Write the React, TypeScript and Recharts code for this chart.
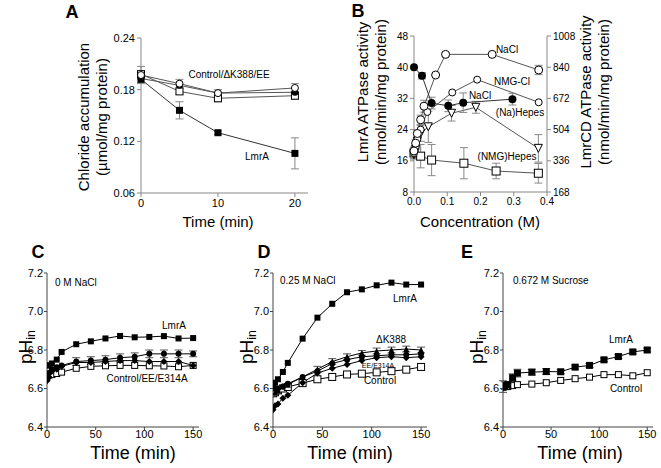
import React from "react";
import { LineChart, Line, XAxis, YAxis, ErrorBar } from "recharts";

// ---- Panel A: chloride accumulation ----
const A_TIME = [0, 5, 10, 20];
const A_LMRA = [0.192, 0.156, 0.13, 0.106];
const A_LMRA_ERR = [0.004, 0.01, 0.002, 0.018];
const A_CONTROL = [0.197, 0.187, 0.176, 0.182];
const A_CONTROL_ERR = [0.01, 0.005, 0.004, 0.005];
const A_DK388 = [0.193, 0.185, 0.176, 0.177];
const A_EE = [0.198, 0.178, 0.17, 0.173];
const A_EE_ERR = [0.004, 0.003, 0.004, 0.004];

// ---- Panel B: ATPase activity vs concentration ----
// LmrA (left axis, nmol/min/mg)
const B_LMRA_NACL_C = [0, 0.024, 0.053, 0.103, 0.148, 0.296];
const B_LMRA_NACL = [40, 37.8, 30.8, 30.1, 30.9, 31.8];
const B_LMRA_NACL_ERR = [0, 0.8, 1.5, 1.5, 2.5, 1.5];
// LmrCD (right axis, nmol/min/mg)
const B_CD_NACL_C = [0, 0.005, 0.01, 0.02, 0.03, 0.065, 0.095, 0.235, 0.375];
const B_CD_NACL = [389, 431, 483, 557, 630, 798, 909, 909, 825];
const B_CD_NACL_ERR = [20, 20, 20, 25, 32, 0, 10, 0, 25];
const B_CD_NMGCL_C = [0, 0.005, 0.01, 0.02, 0.04, 0.115, 0.19, 0.375];
const B_CD_NMGCL = [378, 410, 452, 504, 599, 704, 773, 651];
const B_CD_NAHEPES_C = [0, 0.005, 0.01, 0.02, 0.043, 0.113, 0.186, 0.374];
const B_CD_NAHEPES = [368, 399, 441, 483, 519, 592, 624, 403];
const B_CD_NAHEPES_ERR = [21, 32, 42, 42, 84, 42, 32, 74];
const B_CD_NMGHEPES_C = [0, 0.02, 0.053, 0.15, 0.247, 0.374];
const B_CD_NMGHEPES = [378, 361, 340, 323, 281, 269];
const B_CD_NMGHEPES_ERR = [32, 63, 84, 84, 42, 53];

// ---- Panels C-E: internal pH ----
const PH_TIME = [0, 2, 5, 10, 15, 30, 45, 60, 75, 90, 105, 120, 135, 150];

const C_LMRA = [6.72, 6.72, 6.73, 6.75, 6.79, 6.83, 6.845, 6.86, 6.873, 6.866, 6.868, 6.872, 6.86, 6.862];
const C_CONTROL = [6.66, 6.67, 6.672, 6.678, 6.685, 6.705, 6.715, 6.718, 6.72, 6.72, 6.718, 6.717, 6.713, 6.72];
const C_EE = [6.65, 6.68, 6.7, 6.71, 6.72, 6.74, 6.745, 6.75, 6.76, 6.765, 6.78, 6.78, 6.78, 6.78];
const C_EE_ERR = [0, 0, 0, 0, 0, 0.02, 0.02, 0.02, 0.02, 0.02, 0.02, 0.02, 0.02, 0.015];
const C_E314A = [6.64, 6.66, 6.69, 6.7, 6.715, 6.735, 6.735, 6.74, 6.745, 6.745, 6.74, 6.74, 6.74, 6.72];

const D_LMRA = [6.62, 6.63, 6.648, 6.686, 6.733, 6.859, 6.968, 7.04, 7.1, 7.115, 7.136, 7.15, 7.14, 7.14];
const D_CONTROL = [6.575, 6.58, 6.59, 6.6, 6.608, 6.628, 6.648, 6.66, 6.673, 6.677, 6.684, 6.69, 6.698, 6.712];
const D_DK388 = [6.6, 6.58, 6.59, 6.61, 6.62, 6.66, 6.7, 6.74, 6.765, 6.785, 6.795, 6.8, 6.805, 6.8];
const D_DK388_ERR = [0, 0, 0, 0, 0, 0, 0.015, 0.015, 0.015, 0.012, 0.015, 0.015, 0.015, 0.015];
const D_EE = [6.61, 6.6, 6.6, 6.61, 6.625, 6.66, 6.69, 6.73, 6.75, 6.765, 6.77, 6.775, 6.775, 6.78];
const D_E314A = [6.49, 6.51, 6.52, 6.55, 6.565, 6.63, 6.68, 6.705, 6.725, 6.745, 6.76, 6.765, 6.76, 6.765];

const E_LMRA = [6.61, 6.615, 6.62, 6.656, 6.68, 6.685, 6.688, 6.687, 6.711, 6.72, 6.749, 6.766, 6.79, 6.8];
const E_LMRA_ERR = [0.03, 0.02, 0.015, 0.02, 0.02, 0.015, 0.015, 0.01, 0.01, 0.01, 0.01, 0.01, 0.01, 0.01];
const E_CONTROL = [6.606, 6.61, 6.61, 6.615, 6.62, 6.623, 6.63, 6.642, 6.651, 6.659, 6.672, 6.672, 6.666, 6.682];

const PH_TICKS = [6.4, 6.6, 6.8, 7.0, 7.2];
const TIME_TICKS = [0, 50, 100, 150];

const FONT = "'Liberation Sans', Arial, sans-serif";

type Kind = "sq" | "osq" | "dot" | "odot" | "tri" | "itri" | "dia";

function zip(xs: number[], ys: number[], es?: number[]) {
  return xs.map((x, i) => ({ x, y: ys[i], e: es ? es[i] : 0 }));
}

function Mk({ cx, cy, kind, s }: { cx: number; cy: number; kind: Kind; s: number }) {
  if (cx == null || cy == null) return null;
  const h = s / 2;
  switch (kind) {
    case "sq":
      return <rect x={cx - h} y={cy - h} width={s} height={s} fill="#000" />;
    case "osq":
      return <rect x={cx - h} y={cy - h} width={s} height={s} fill="#fff" stroke="#000" strokeWidth={1} />;
    case "dot":
      return <circle cx={cx} cy={cy} r={h} fill="#000" />;
    case "odot":
      return <circle cx={cx} cy={cy} r={h} fill="#fff" stroke="#000" strokeWidth={1} />;
    case "tri":
      return <polygon points={`${cx},${cy - h} ${cx + h},${cy + h} ${cx - h},${cy + h}`} fill="#000" />;
    case "itri":
      return (
        <polygon
          points={`${cx - h},${cy - h} ${cx + h},${cy - h} ${cx},${cy + h}`}
          fill="#fff"
          stroke="#000"
          strokeWidth={1}
        />
      );
    case "dia":
      return <polygon points={`${cx},${cy - h - 1} ${cx + h + 1},${cy} ${cx},${cy + h + 1} ${cx - h - 1},${cy}`} fill="#000" />;
  }
  return null;
}

function series(
  id: string,
  data: { x: number; y: number; e: number }[],
  kind: Kind,
  s: number,
  stroke = "#000",
  yAxisId: string | number = 0,
  errColor = "#555"
) {
  const hasErr = data.some((d) => d.e > 0);
  return (
    <Line
      key={id}
      data={data}
      dataKey="y"
      type="linear"
      stroke={stroke}
      strokeWidth={1}
      yAxisId={yAxisId}
      isAnimationActive={false}
      activeDot={false}
      dot={(p: any) => (
        <g key={`${id}-${p.index}`}>
          <Mk cx={p.cx} cy={p.cy} kind={kind} s={s} />
        </g>
      )}
    >
      {hasErr && <ErrorBar dataKey="e" width={4} stroke={errColor} strokeWidth={1} direction="y" />}
    </Line>
  );
}

function Txt({
  x,
  y,
  size,
  children,
  bold,
  rotate,
  anchor = "middle",
}: {
  x: number;
  y: number;
  size: number;
  children: React.ReactNode;
  bold?: boolean;
  rotate?: boolean;
  anchor?: "start" | "middle";
}) {
  const tx = anchor === "middle" ? "-50%" : "0";
  return (
    <div
      style={{
        position: "absolute",
        left: x,
        top: y,
        fontSize: size,
        fontWeight: bold ? 700 : 400,
        whiteSpace: "nowrap",
        lineHeight: 1,
        transform: `translate(${tx}, -50%)${rotate ? " rotate(-90deg)" : ""}`,
        color: "#000",
      }}
    >
      {children}
    </div>
  );
}

const PHin = () => (
  <span>
    pH<sub style={{ fontSize: "0.65em", verticalAlign: "-0.25em" }}>in</sub>
  </span>
);

function PhPanel({
  left,
  width,
  marginLeft,
  marginRight,
  children,
}: {
  left: number;
  width: number;
  marginLeft: number;
  marginRight: number;
  children: React.ReactNode;
}) {
  const tick = { fontSize: 11, fill: "#000", fontFamily: FONT };
  return (
    <div style={{ position: "absolute", left, top: 230 }}>
      <LineChart width={width} height={238} margin={{ top: 43, right: marginRight, bottom: 19, left: marginLeft }}>
        <XAxis
          type="number"
          dataKey="x"
          domain={[0, 156]}
          ticks={TIME_TICKS}
          tick={tick}
          tickSize={3}
          tickMargin={0}
          height={22}
          stroke="#444"
          allowDataOverflow
        />
        <XAxis xAxisId="top" orientation="top" type="number" domain={[0, 156]} tick={false} tickLine={false} height={0} stroke="#444" />
        <YAxis
          type="number"
          domain={[6.4, 7.2]}
          ticks={PH_TICKS}
          tickFormatter={(v) => v.toFixed(1)}
          tick={tick}
          tickSize={3}
          tickMargin={1}
          width={30}
          stroke="#444"
        />
        <YAxis yAxisId="frame" orientation="right" domain={[6.4, 7.2]} tick={false} tickLine={false} width={0} stroke="#444" />
        {children}
      </LineChart>
    </div>
  );
}

export default function App() {
  const tickA = { fontSize: 11, fill: "#000", fontFamily: FONT };
  const tickB = { fontSize: 10, fill: "#000", fontFamily: FONT };

  return (
    <div style={{ position: "absolute", left: 0, top: 0, width: 661, height: 468, background: "#fff", fontFamily: FONT }}>
      {/* Panel A */}
      <div style={{ position: "absolute", left: 0, top: 0 }}>
        <LineChart width={330} height={230} margin={{ top: 38, right: 22, bottom: 7, left: 101 }}>
          <XAxis type="number" dataKey="x" domain={[0, 21.7]} ticks={[0, 10, 20]} tick={tickA} tickSize={4} height={30} stroke="#888" />
          <XAxis xAxisId="top" orientation="top" type="number" domain={[0, 21.7]} tick={false} tickLine={false} height={0} stroke="#888" />
          <YAxis
            type="number"
            domain={[0.06, 0.24]}
            ticks={[0.06, 0.12, 0.18, 0.24]}
            tickFormatter={(v) => v.toFixed(2)}
            tick={tickA}
            tickSize={4}
            width={40}
            stroke="#888"
          />
          <YAxis yAxisId="frame" orientation="right" domain={[0.06, 0.24]} tick={false} tickLine={false} width={0} stroke="#888" />
          {series("a-lmra", zip(A_TIME, A_LMRA, A_LMRA_ERR), "sq", 7, "#333", 0, "#888")}
          {series("a-ee", zip(A_TIME, A_EE, A_EE_ERR), "osq", 7, "#555", 0, "#888")}
          {series("a-dk", zip(A_TIME, A_DK388), "dot", 7, "#555", 0, "#888")}
          {series("a-ctl", zip(A_TIME, A_CONTROL, A_CONTROL_ERR), "odot", 7, "#555", 0, "#888")}
        </LineChart>
      </div>

      {/* Panel B */}
      <div style={{ position: "absolute", left: 330, top: 0 }}>
        <LineChart width={331} height={230} margin={{ top: 36, right: 79, bottom: 13, left: 54 }}>
          <XAxis
            type="number"
            dataKey="x"
            domain={[0, 0.4]}
            ticks={[0, 0.1, 0.2, 0.3, 0.4]}
            tickFormatter={(v) => v.toFixed(1)}
            tick={tickB}
            tickSize={4}
            height={25}
            stroke="#888"
          />
          <YAxis yAxisId="l" type="number" domain={[8, 48]} ticks={[8, 16, 24, 32, 40, 48]} tick={tickB} tickSize={4} width={30} stroke="#888" />
          <YAxis
            yAxisId="r"
            orientation="right"
            type="number"
            domain={[168, 1008]}
            ticks={[168, 336, 504, 672, 840, 1008]}
            tick={tickB}
            tickSize={4}
            width={35}
            stroke="#888"
          />
          {series("b-nmghepes", zip(B_CD_NMGHEPES_C, B_CD_NMGHEPES, B_CD_NMGHEPES_ERR), "osq", 8, "#555", "r", "#888")}
          {series("b-nahepes", zip(B_CD_NAHEPES_C, B_CD_NAHEPES, B_CD_NAHEPES_ERR), "itri", 8, "#555", "r", "#888")}
          {series("b-nmgcl", zip(B_CD_NMGCL_C, B_CD_NMGCL), "odot", 7, "#555", "r", "#888")}
          {series("b-cdnacl", zip(B_CD_NACL_C, B_CD_NACL, B_CD_NACL_ERR), "odot", 8, "#555", "r", "#888")}
          {series("b-lmranacl", zip(B_LMRA_NACL_C, B_LMRA_NACL, B_LMRA_NACL_ERR), "dot", 8, "#333", "l", "#888")}
        </LineChart>
      </div>

      {/* Panel C */}
      <PhPanel left={0} width={220} marginLeft={17} marginRight={21}>
        {series("c-ctl", zip(PH_TIME, C_CONTROL), "osq", 6)}
        {series("c-e314a", zip(PH_TIME, C_E314A), "dia", 5)}
        {series("c-ee", zip(PH_TIME, C_EE, C_EE_ERR), "dot", 6)}
        {series("c-lmra", zip(PH_TIME, C_LMRA), "sq", 6)}
      </PhPanel>

      {/* Panel D */}
      <PhPanel left={220} width={220} marginLeft={23} marginRight={13}>
        {series("d-ctl", zip(PH_TIME, D_CONTROL), "osq", 7)}
        {series("d-e314a", zip(PH_TIME, D_E314A), "dia", 5)}
        {series("d-ee", zip(PH_TIME, D_EE), "dot", 6)}
        {series("d-dk", zip(PH_TIME, D_DK388, D_DK388_ERR), "tri", 6)}
        {series("d-lmra", zip(PH_TIME, D_LMRA), "sq", 6)}
      </PhPanel>

      {/* Panel E */}
      <PhPanel left={440} width={221} marginLeft={33} marginRight={8}>
        {series("e-ctl", zip(PH_TIME, E_CONTROL), "osq", 6)}
        {series("e-lmra", zip(PH_TIME, E_LMRA, E_LMRA_ERR), "sq", 7)}
      </PhPanel>

      {/* Panel A text */}
      <Txt x={72} y={12} size={18} bold>A</Txt>
      <Txt x={83} y={117} size={15} rotate>Chloride accumulation</Txt>
      <Txt x={101} y={117} size={15} rotate>(µmol/mg protein)</Txt>
      <Txt x={218} y={221} size={15}>Time (min)</Txt>
      <Txt x={229} y={75} size={10}>Control/ΔK388/EE</Txt>
      <Txt x={257} y={157} size={10}>LmrA</Txt>

      {/* Panel B text */}
      <Txt x={358} y={11} size={18} bold>B</Txt>
      <Txt x={362} y={92} size={15} rotate>LmrA ATPase activity</Txt>
      <Txt x={380} y={92} size={15} rotate>(nmol/min/mg protein)</Txt>
      <Txt x={585} y={92} size={15} rotate>LmrCD ATPase activity</Txt>
      <Txt x={603} y={92} size={15} rotate>(nmol/min/mg protein)</Txt>
      <Txt x={480} y={221} size={15}>Concentration (M)</Txt>
      <Txt x={507} y={50} size={10}>NaCl</Txt>
      <Txt x={512} y={82} size={10}>NMG-Cl</Txt>
      <Txt x={480} y={96} size={10}>NaCl</Txt>
      <Txt x={520} y={113} size={10}>(Na)Hepes</Txt>
      <Txt x={507} y={157} size={10}>(NMG)Hepes</Txt>

      {/* Panel C text */}
      <Txt x={38} y={252} size={18} bold>C</Txt>
      <Txt x={27} y={347} size={19} rotate><PHin /></Txt>
      <Txt x={55} y={283} size={10} anchor="start">0 M NaCl</Txt>
      <Txt x={174} y={326} size={10}>LmrA</Txt>
      <Txt x={147} y={379} size={10}>Control/EE/E314A</Txt>
      <Txt x={133} y={453} size={18}>Time (min)</Txt>

      {/* Panel D text */}
      <Txt x={264} y={252} size={18} bold>D</Txt>
      <Txt x={248} y={347} size={19} rotate><PHin /></Txt>
      <Txt x={280} y={281} size={10} anchor="start">0.25 M NaCl</Txt>
      <Txt x={405} y={299} size={10}>LmrA</Txt>
      <Txt x={391} y={340} size={10}>ΔK388</Txt>
      <Txt x={378} y={365} size={7}>EE/E314A</Txt>
      <Txt x={380} y={381} size={10}>Control</Txt>
      <Txt x={350} y={453} size={18}>Time (min)</Txt>

      {/* Panel E text */}
      <Txt x={467} y={252} size={18} bold>E</Txt>
      <Txt x={478} y={347} size={19} rotate><PHin /></Txt>
      <Txt x={513} y={281} size={10} anchor="start">0.672 M Sucrose</Txt>
      <Txt x={621} y={340} size={10}>LmrA</Txt>
      <Txt x={626} y={389} size={10}>Control</Txt>
      <Txt x={580} y={453} size={18}>Time (min)</Txt>
    </div>
  );
}
